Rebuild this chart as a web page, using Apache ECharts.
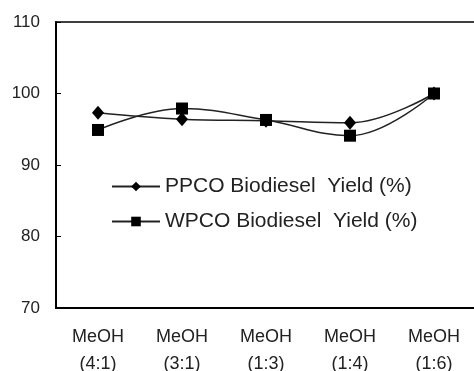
<!DOCTYPE html>
<html>
<head>
<meta charset="utf-8">
<script src="https://cdn.jsdelivr.net/npm/echarts@6/dist/echarts.min.js"></script>
<style>
  html, body { margin: 0; padding: 0; background: #fff; }
  #chart { width: 474px; height: 371px; }
</style>
</head>
<body>
<div id="chart"></div>
<script>
// 数据
const categories = ['MeOH\n(4:1)', 'MeOH\n(3:1)', 'MeOH\n(1:3)', 'MeOH\n(1:4)', 'MeOH\n(1:6)'];
const ppcoYield = [97.3, 96.4, 96.2, 95.9, 100];
const wpcoYield = [94.9, 97.9, 96.3, 94.1, 100];
const yTicks = [70, 80, 90, 100, 110];

const chart = echarts.init(document.getElementById('chart'));
const font = 'Liberation Sans, Arial, sans-serif';

const option = {
    animation: false,
    grid: {
        left: 56, right: -2, top: 22, bottom: 63,
        outerBoundsMode: 'none',
        show: true, borderColor: '#000', borderWidth: 1.5, backgroundColor: 'transparent'
    },
    legend: {
        orient: 'vertical',
        left: 106, top: 171,
        itemWidth: 48, itemHeight: 12, itemGap: 14,
        textStyle: { fontFamily: font, fontSize: 21, color: '#222' },
        data: ['PPCO Biodiesel  Yield (%)', 'WPCO Biodiesel  Yield (%)']
    },
    xAxis: [
        {
            type: 'category',
            data: categories,
            boundaryGap: true,
            axisLine: { lineStyle: { color: '#000', width: 2 } },
            axisTick: { inside: true, length: 5, lineStyle: { color: '#000' } },
            axisLabel: { fontFamily: font, fontSize: 18, color: '#222', margin: 16, lineHeight: 27 }
        },
        {
            type: 'category',
            data: categories,
            position: 'bottom',
            boundaryGap: true,
            axisLine: { show: false },
            axisTick: { inside: true, alignWithLabel: true, length: 5, lineStyle: { color: '#000' } },
            axisLabel: { show: false }
        }
    ],
    yAxis: {
        type: 'value',
        min: yTicks[0], max: yTicks[yTicks.length - 1], interval: 10,
        axisLine: { show: true, lineStyle: { color: '#000', width: 2 } },
        axisTick: { show: true, inside: true, length: 5, lineStyle: { color: '#000' } },
        splitLine: { show: false },
        axisLabel: { fontFamily: font, fontSize: 17, color: '#222', margin: 16 }
    },
    series: [
        {
            name: 'PPCO Biodiesel  Yield (%)',
            type: 'line',
            data: ppcoYield,
            smooth: 0.4,
            symbol: 'diamond',
            symbolSize: [12, 14],
            itemStyle: { color: '#000' },
            lineStyle: { color: '#222', width: 1.5 }
        },
        {
            name: 'WPCO Biodiesel  Yield (%)',
            type: 'line',
            data: wpcoYield,
            smooth: 0.4,
            symbol: 'rect',
            symbolSize: 12,
            itemStyle: { color: '#000' },
            lineStyle: { color: '#222', width: 1.5 }
        }
    ]
};

chart.setOption(option);
window.addEventListener('resize', () => chart.resize());
</script>
</body>
</html>
